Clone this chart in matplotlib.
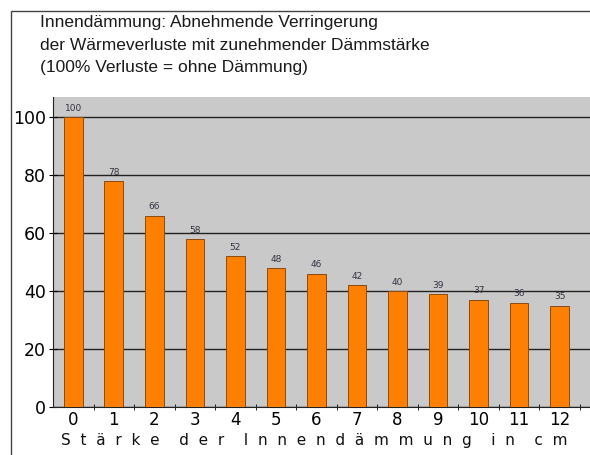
import matplotlib
matplotlib.use("Agg")
import matplotlib.pyplot as plt
from matplotlib.patches import Rectangle

# thickness of interior insulation in cm, and remaining heat loss in %
staerke = [0, 1, 2, 3, 4, 5, 6, 7, 8, 9, 10, 11, 12]
verluste = [100, 78, 66, 58, 52, 48, 46, 42, 40, 39, 37, 36, 35]
y_ticks = [0, 20, 40, 60, 80, 100]

title = ("Innendämmung: Abnehmende Verringerung\n"
         "der Wärmeverluste mit zunehmender Dämmstärke\n"
         "(100% Verluste = ohne Dämmung)")
xlabel = "S  t  ä  r  k  e    d  e  r    I  n  n  e  n  d  ä  m  m  u  n  g    i  n    c  m"

fig = plt.figure(figsize=(5.9, 4.55), dpi=100)
fig.patch.set_facecolor("white")

# outer frame (left / top edges visible)
fig.patches.append(Rectangle((11 / 590, -0.1), 1.2, 1 - 11 / 455 + 0.1,
                             transform=fig.transFigure, fill=False,
                             edgecolor="#444444", linewidth=1.0))

fig.text(40 / 590, 1 - 15 / 455, title, ha="left", va="top",
         fontsize=12.5, family="Liberation Sans", linespacing=1.64, color="#1a1a1a")

ax = fig.add_axes([53 / 590, 1 - 407 / 455, 1 - 53 / 590, (407 - 97) / 455])
ax.set_facecolor("#c9c9c9")

bars = ax.bar(staerke, verluste, width=0.46, color="#ff8000",
              edgecolor="#8a4a10", linewidth=0.7, zorder=3)
for x, v in zip(staerke, verluste):
    ax.text(x, v + 1.5, str(v), ha="center", va="bottom", fontsize=6.5,
            color="#333344", zorder=4)

ax.set_xlim(-0.5, 12.75)
ax.set_ylim(0, 107)
ax.set_yticks(y_ticks)
ax.set_xticks(staerke)
ax.set_xticks([i + 0.5 for i in staerke], minor=True)
ax.tick_params(axis="x", which="major", length=0, labelsize=12, pad=3)
ax.tick_params(axis="x", which="minor", length=5, direction="inout")
ax.tick_params(axis="y", length=6, direction="inout", labelsize=12.5, pad=2)
ax.yaxis.grid(True, color="#222222", linewidth=1.0, zorder=1)
ax.set_axisbelow(True)

for s in ["top", "right"]:
    ax.spines[s].set_visible(False)
ax.spines["left"].set_color("#222222")
ax.spines["bottom"].set_color("#222222")

ax.set_xlabel(xlabel, fontsize=11, labelpad=2, color="#111111")
ax.xaxis.set_label_coords(0.486, -0.085)

fig.savefig("out.png", dpi=100)
